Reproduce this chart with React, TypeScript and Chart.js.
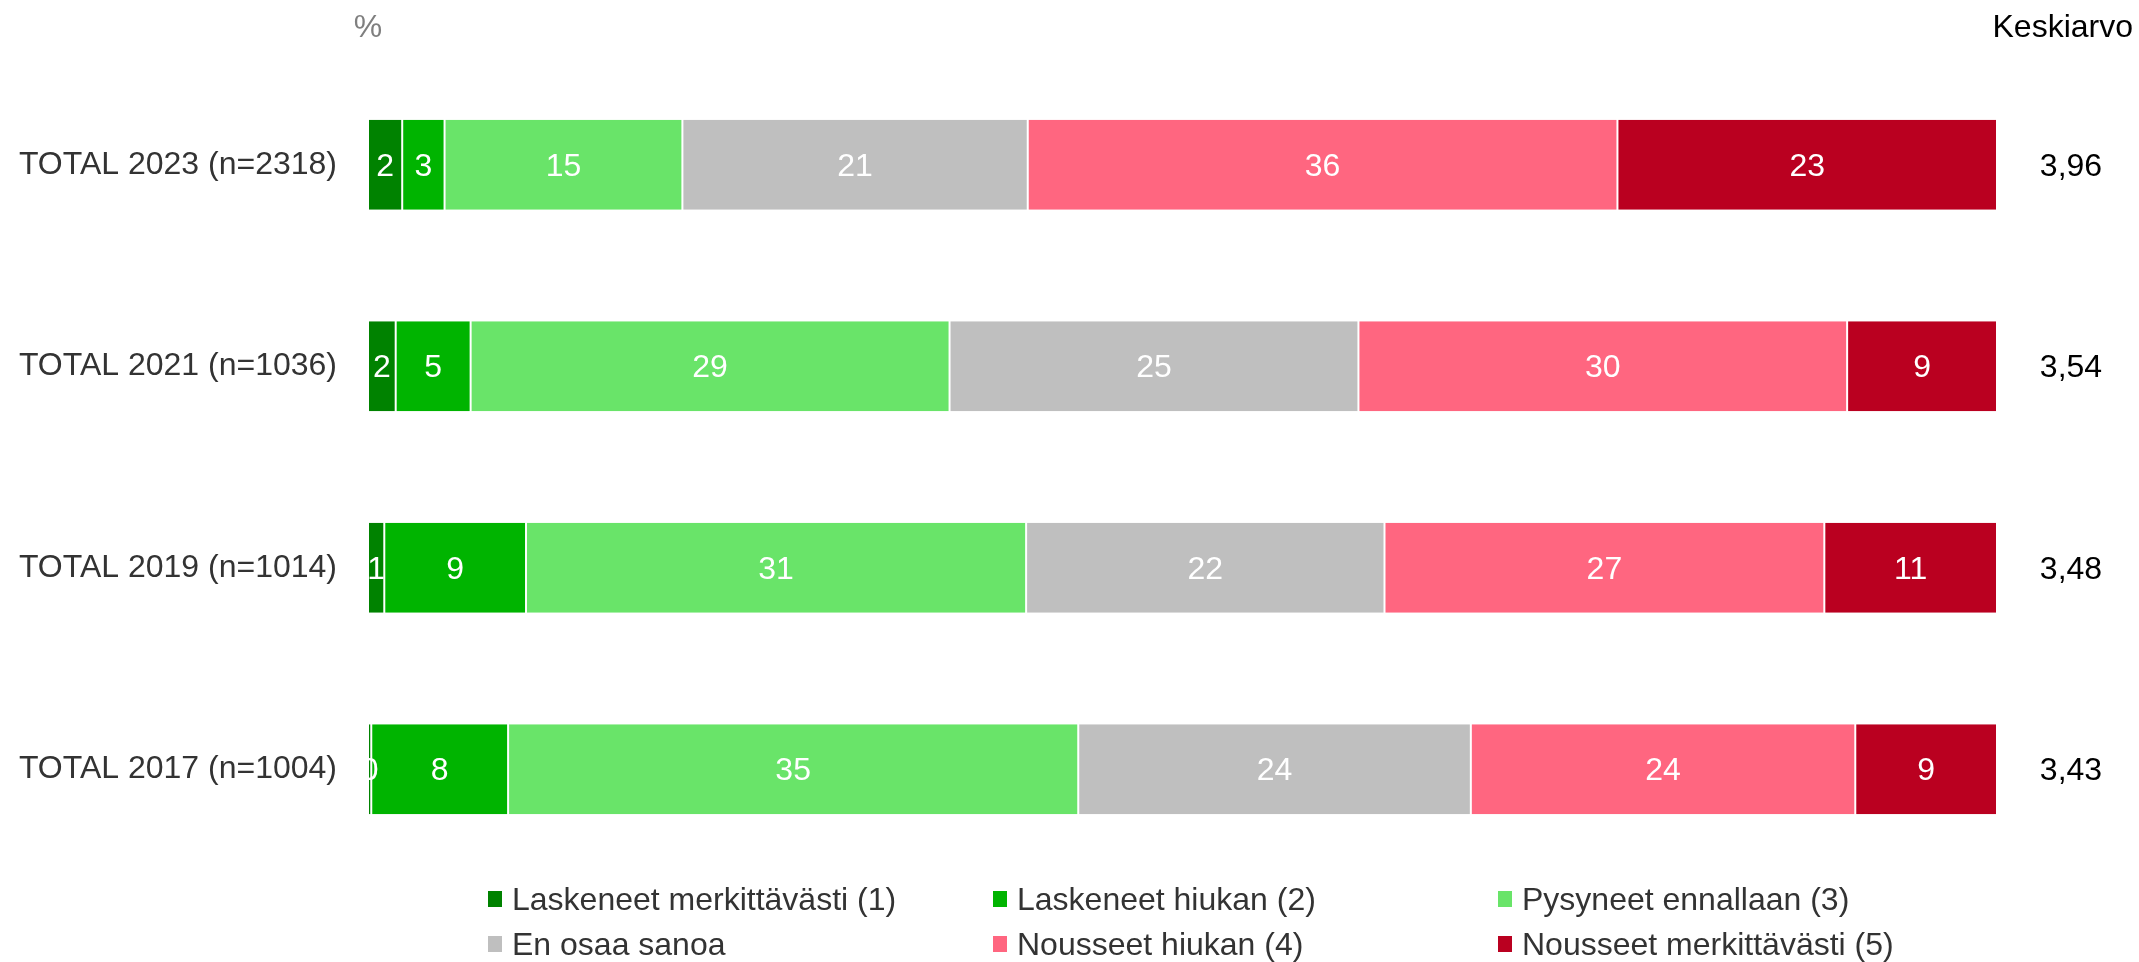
import React, { useEffect, useRef } from "react";
import { Chart, registerables } from "chart.js";

Chart.register(...registerables);

const categories = [
  "TOTAL 2023 (n=2318)",
  "TOTAL 2021 (n=1036)",
  "TOTAL 2019 (n=1014)",
  "TOTAL 2017 (n=1004)",
];
const seriesNames = [
  "Laskeneet merkittävästi (1)",
  "Laskeneet hiukan (2)",
  "Pysyneet ennallaan (3)",
  "En osaa sanoa",
  "Nousseet hiukan (4)",
  "Nousseet merkittävästi (5)",
];
const laskeneetMerkittavasti = [2.1, 1.7, 1.0, 0.2];
const laskeneetHiukan = [2.6, 4.6, 8.7, 8.4];
const pysyneetEnnallaan = [14.6, 29.4, 30.7, 35.0];
const enOsaaSanoa = [21.2, 25.1, 22.0, 24.1];
const nousseetHiukan = [36.2, 30.0, 27.0, 23.6];
const nousseetMerkittavasti = [23.3, 9.2, 10.6, 8.7];
const keskiarvot = [3.96, 3.54, 3.48, 3.43];
const seriesColors = ["#008200", "#00B400", "#69E469", "#BFBFBF", "#FF6680", "#BA0020"];

const FONT = "'Liberation Sans', Arial, sans-serif";
const FS = 32;

export default function App() {
  const ref = useRef<HTMLCanvasElement | null>(null);

  useEffect(() => {
    const seriesValues = [
      laskeneetMerkittavasti,
      laskeneetHiukan,
      pysyneetEnnallaan,
      enOsaaSanoa,
      nousseetHiukan,
      nousseetMerkittavasti,
    ];
    const extras = {
      id: "extras",
      afterDatasetsDraw(chart: any) {
        const ctx = chart.ctx;
        const area = chart.chartArea;
        // data labels
        ctx.save();
        ctx.beginPath();
        ctx.rect(area.left, area.top, area.right - area.left, area.bottom - area.top);
        ctx.clip();
        ctx.font = `${FS}px ${FONT}`;
        ctx.fillStyle = "#FFFFFF";
        ctx.textAlign = "center";
        ctx.textBaseline = "middle";
        chart.data.datasets.forEach((ds: any, di: number) => {
          const meta = chart.getDatasetMeta(di);
          meta.data.forEach((el: any, i: number) => {
            const v = ds.data[i];
            const cx = (el.base + el.x) / 2;
            ctx.fillText(String(Math.round(v)), cx, el.y + 2);
          });
        });
        ctx.restore();

        ctx.save();
        ctx.font = `${FS}px ${FONT}`;
        ctx.textBaseline = "middle";
        // header
        ctx.fillStyle = "#7F7F7F";
        ctx.textAlign = "center";
        ctx.fillText("%", area.left, 28);
        ctx.fillStyle = "#000000";
        ctx.textAlign = "right";
        ctx.fillText("Keskiarvo", 2133, 28);
        // averages
        ctx.textAlign = "center";
        const meta0 = chart.getDatasetMeta(0);
        meta0.data.forEach((el: any, i: number) => {
          ctx.fillText(keskiarvot[i].toFixed(2).replace(".", ","), 2071, el.y + 2);
        });
        // legend
        const colX = [488, 993, 1498];
        const rowY = [899, 944];
        ctx.textAlign = "left";
        chart.data.datasets.forEach((ds: any, di: number) => {
          const x = colX[di % 3];
          const y = rowY[Math.floor(di / 3)];
          ctx.fillStyle = ds.backgroundColor;
          ctx.fillRect(x, y - 8, 14, 16);
          ctx.fillStyle = "#333333";
          ctx.fillText(ds.label, x + 24, y + 2);
        });
        ctx.restore();
      },
    };

    const chart = new Chart(ref.current as HTMLCanvasElement, {
      type: "bar",
      data: {
        labels: categories,
        datasets: seriesNames.map((name, i) => ({
          label: name,
          data: seriesValues[i],
          backgroundColor: seriesColors[i],
          borderColor: "#FFFFFF",
          borderWidth: { left: 1, right: 1, top: 0, bottom: 0 },
          borderSkipped: false,
          barPercentage: 0.447,
          categoryPercentage: 1,
        })),
      },
      options: {
        indexAxis: "y",
        animation: false,
        responsive: false,
        maintainAspectRatio: false,
        layout: { padding: { left: 0, right: 142, top: 64, bottom: 92 } },
        plugins: {
          legend: { display: false },
          tooltip: { enabled: false },
        },
        scales: {
          x: {
            stacked: true,
            min: 0,
            max: 100,
            display: false,
          },
          y: {
            stacked: true,
            grid: { display: false, drawTicks: false },
            border: { display: false },
            ticks: {
              color: "#333333",
              font: { family: FONT, size: FS },
              padding: 31,
            },
            afterFit(scale: any) {
              scale.width = 368;
            },
          },
        },
      },
      plugins: [extras],
    } as any);
    return () => chart.destroy();
  }, []);

  return (
    <div style={{ position: "fixed", left: 0, top: 0, width: 2139, height: 962, background: "#fff" }}>
      <canvas ref={ref} width={2139} height={962} style={{ display: "block", width: 2139, height: 962 }} />
    </div>
  );
}
